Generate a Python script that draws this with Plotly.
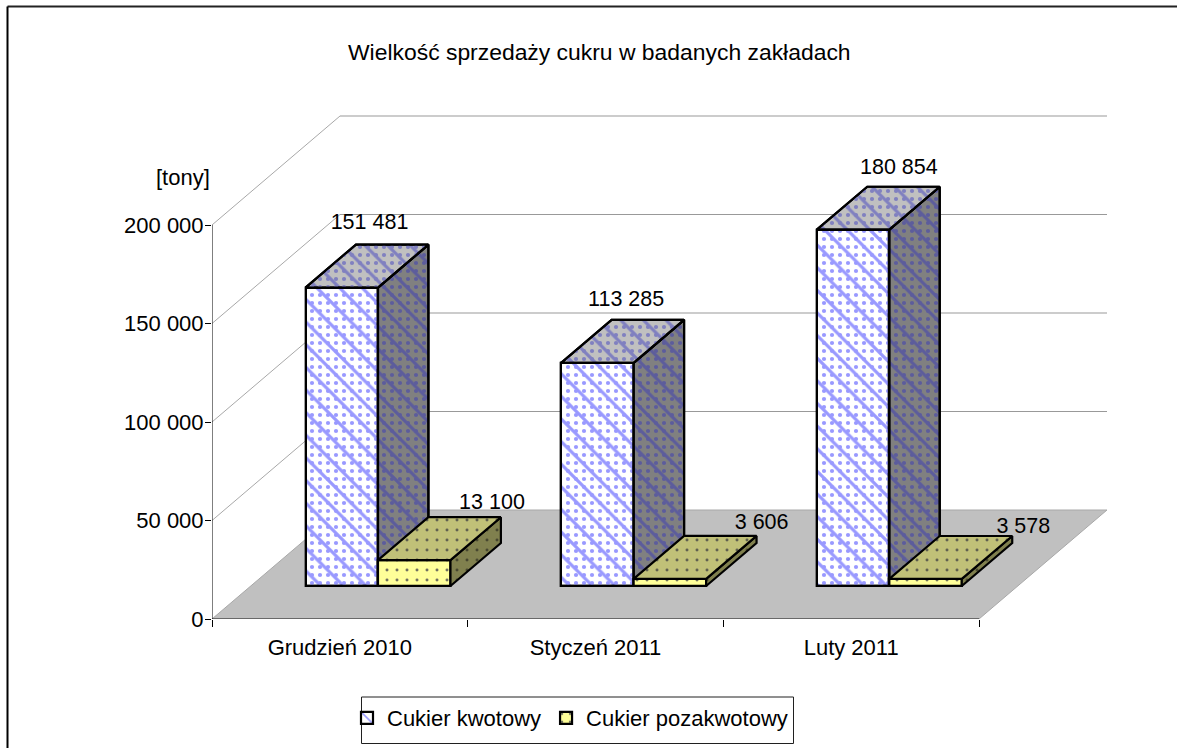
import plotly.graph_objects as go

# ---- data ----
categories = ["Grudzień 2010", "Styczeń 2011", "Luty 2011"]
kwotowy = [151481, 113285, 180854]
pozakwotowy = [13100, 3606, 3578]
series_names = ["Cukier kwotowy", "Cukier pozakwotowy"]
y_ticks = [0, 50000, 100000, 150000, 200000]
title_text = "Wielkość sprzedaży cukru w badanych zakładach"
unit_text = "[tony]"

# ---- canvas / projection ----
W, H = 1177, 748
PX_LEFT, PX_RIGHT, PX_BOTTOM, PX_TOP = 212, 1107, 619, 115
PX_PER_CAT = 767 / 3
PX_PER_UNIT = 394 / 200000
X_MAX = (PX_RIGHT - PX_LEFT) / PX_PER_CAT
Y_MAX = (PX_BOTTOM - PX_TOP) / PX_PER_UNIT
DEPTH_X = 128 / PX_PER_CAT     # oblique offset of the whole floor
DEPTH_Y = 109 / PX_PER_UNIT
D0, D1 = 0.303, 0.697          # bar depth span, fractions of floor depth
GAP, BAR_W = 0.214, 0.2835
FONT = "Liberation Sans"
FS = 22


def fx(px):
    return (px - PX_LEFT) / (PX_RIGHT - PX_LEFT)


def fy(py):
    return (PX_BOTTOM - py) / (PX_BOTTOM - PX_TOP)


def proj(x, v, d):
    return x + d * DEPTH_X, v + d * DEPTH_Y


def poly(points, bg, fg, shape, size, solidity):
    xs = [p[0] for p in points] + [points[0][0]]
    ys = [p[1] for p in points] + [points[0][1]]
    clear = "rgba(0,0,0,0)"
    return go.Scatter(
        x=xs, y=ys, mode="lines", fill="toself", showlegend=False, hoverinfo="skip",
        line=dict(color="black", width=2.2),
        fillcolor=bg or clear,
        fillpattern=dict(shape=shape, bgcolor=bg or clear, fgcolor=fg, size=size,
                         solidity=solidity, fillmode="overlay", fgopacity=1),
    )


def striped(points, bg, fg):
    """Stripes plus rows of dots lying midway between them."""
    return [poly(points, bg, fg, "\\", STRIPE[0], STRIPE[1]),
            poly(points, None, fg, ".", DOT[0], DOT[1])]


STRIPE = (16, 0.2)
DOT = (8, 0.22)
SPECK = (10, 0.07)

STYLES = [
    dict(front="#ffffff", top="#c0c0c0", side="#808080",
         fg_front="#9999ff", fg_top="#8080c0", fg_side="#5c5c9c"),
    dict(front="#ffff99", top="#c0c078", side="#80804e",
         fg_front="#707060", fg_top="#606050", fg_side="#484830"),
]

fig = go.Figure()

shapes = []
floor = [proj(0, 0, 0), proj(3, 0, 0), proj(3, 0, 1), proj(0, 0, 1)]
shapes.append(dict(
    type="path", layer="below", xref="x", yref="y",
    path="M" + " L".join(f"{a},{b}" for a, b in floor) + " Z",
    fillcolor="#c0c0c0", line=dict(color="#a8a8a8", width=1)))
for t in y_ticks[1:]:
    a, b = proj(0, t, 1)
    c, e = proj(3, t, 1)
    shapes.append(dict(type="line", layer="below", xref="x", yref="y", x0=0, y0=t, x1=a, y1=b,
                       line=dict(color="#a8a8a8", width=1)))
    shapes.append(dict(type="line", layer="below", xref="x", yref="y", x0=a, y0=b, x1=c, y1=e,
                       line=dict(color="#999999", width=1)))
shapes.append(dict(type="line", layer="above", xref="x", yref="y", x0=0, y0=0, x1=0, y1=y_ticks[-1],
                   line=dict(color="black", width=1)))
shapes.append(dict(type="line", layer="below", xref="x", yref="y", x0=0, y0=0, x1=3, y1=0,
                   line=dict(color="#505050", width=1.5)))
# chart frame: only its top and left edges fall inside the page
shapes.append(dict(type="line", xref="paper", yref="paper", layer="above",
                   x0=fx(7.5), x1=fx(W), y0=fy(6.5), y1=fy(6.5), line=dict(color="#222222", width=2)))
shapes.append(dict(type="line", xref="paper", yref="paper", layer="above",
                   x0=fx(7.5), x1=fx(7.5), y0=fy(6.5), y1=fy(H), line=dict(color="black", width=2)))
# legend box
shapes.append(dict(type="rect", xref="paper", yref="paper", layer="above",
                   x0=fx(361.5), x1=fx(793.5), y0=fy(697), y1=fy(743.5),
                   line=dict(color="#202020", width=1)))

cx = list(range(len(categories)))
base_val = D0 * DEPTH_Y
clear = "rgba(0,0,0,0)"
st0, st1 = STYLES
edge = dict(color="black", width=2.2)
centres0 = [i + GAP + D0 * DEPTH_X + BAR_W / 2 for i in cx]
centres1 = [i + GAP + BAR_W + D0 * DEPTH_X + BAR_W / 2 for i in cx]
fig.add_trace(go.Bar(
    x=centres0, y=kwotowy, base=base_val, width=BAR_W, name=series_names[0], hoverinfo="skip",
    marker=dict(color=st0["front"], line=edge,
                pattern=dict(shape="\\", fgcolor=st0["fg_front"], bgcolor=st0["front"],
                             size=STRIPE[0], solidity=STRIPE[1], fgopacity=1))))
fig.add_trace(go.Bar(
    x=centres0, y=kwotowy, base=base_val, width=BAR_W, showlegend=False, hoverinfo="skip",
    marker=dict(color=clear, line=edge,
                pattern=dict(shape=".", fgcolor=st0["fg_front"], bgcolor=clear,
                             size=DOT[0], solidity=DOT[1], fgopacity=1))))
fig.add_trace(go.Bar(
    x=centres1, y=pozakwotowy, base=base_val, width=BAR_W, name=series_names[1], hoverinfo="skip",
    marker=dict(color=st1["front"], line=edge,
                pattern=dict(shape=".", fgcolor=st1["fg_front"], bgcolor=st1["front"],
                             size=SPECK[0], solidity=SPECK[1], fgopacity=1))))

for i in cx:
    x0 = i + GAP
    x1 = x0 + BAR_W
    v = kwotowy[i]
    side = [proj(x1, 0, D0), proj(x1, 0, D1), proj(x1, v, D1), proj(x1, v, D0)]
    top = [proj(x0, v, D0), proj(x1, v, D0), proj(x1, v, D1), proj(x0, v, D1)]
    for tr in striped(side, st0["side"], st0["fg_side"]) + striped(top, st0["top"], st0["fg_top"]):
        fig.add_trace(tr)

    x0 = x1
    x1 = x0 + BAR_W
    v = pozakwotowy[i]
    front = [proj(x0, 0, D0), proj(x1, 0, D0), proj(x1, v, D0), proj(x0, v, D0)]
    side = [proj(x1, 0, D0), proj(x1, 0, D1), proj(x1, v, D1), proj(x1, v, D0)]
    top = [proj(x0, v, D0), proj(x1, v, D0), proj(x1, v, D1), proj(x0, v, D1)]
    fig.add_trace(poly(front, st1["front"], st1["fg_front"], ".", *SPECK))
    fig.add_trace(poly(side, st1["side"], st1["fg_side"], ".", *SPECK))
    fig.add_trace(poly(top, st1["top"], st1["fg_top"], ".", *SPECK))

# data labels: placed from the bar value, nudged in pixels per label
label_nudge = [
    [(64, 64), (65, 62), (82, 61)],
    [(114, 57), (128, 55), (134, 51)],
]
lx, ly, lt = [], [], []
for s, vals in enumerate([kwotowy, pozakwotowy]):
    for i, v in enumerate(vals):
        px, py = proj(i + GAP + s * BAR_W, v, D0)
        lx.append(px + label_nudge[s][i][0] / PX_PER_CAT)
        ly.append(py + label_nudge[s][i][1] / PX_PER_UNIT)
        lt.append(f"{v:,}".replace(",", " "))
fig.add_trace(go.Scatter(x=lx, y=ly, text=lt, mode="text", textposition="middle center",
                         showlegend=False, hoverinfo="skip", cliponaxis=False,
                         textfont=dict(family=FONT, size=21.5, color="black")))

fig.update_layout(
    width=W, height=H, autosize=False,
    margin=dict(l=PX_LEFT, r=W - PX_RIGHT, t=PX_TOP, b=H - PX_BOTTOM, pad=0, autoexpand=False),
    paper_bgcolor="white", plot_bgcolor="rgba(0,0,0,0)",
    barmode="overlay", bargap=0,
    separators=", ",
    font=dict(family=FONT, size=FS, color="black"),
    shapes=shapes,
    xaxis=dict(range=[0, X_MAX], showgrid=False, zeroline=False, showline=False,
               tickmode="array", tickvals=[i + 0.5 for i in cx], ticktext=categories,
               ticks="", ticklabelstandoff=13,
               minor=dict(tickmode="array", tickvals=[0, 1, 2, 3], ticks="outside", ticklen=7,
                          tickcolor="black", tickwidth=1, showgrid=False),
               tickfont=dict(family=FONT, size=FS)),
    yaxis=dict(range=[0, Y_MAX], showgrid=False, zeroline=False, showline=False,
               tickmode="array", tickvals=y_ticks, tickformat=",d", ticks="outside", ticklen=6,
               tickcolor="black", tickwidth=1, ticklabelstandoff=-3,
               tickfont=dict(family=FONT, size=FS)),
    annotations=[
        dict(text=title_text, xref="paper", yref="paper", x=fx(599.5), y=fy(52), showarrow=False,
             xanchor="center", yanchor="middle", font=dict(family=FONT, size=22.9)),
        dict(text=unit_text, xref="paper", yref="paper", x=fx(183), y=fy(177), showarrow=False,
             xanchor="center", yanchor="middle", font=dict(family=FONT, size=FS)),
    ],
    legend=dict(orientation="h", x=fx(347), y=fy(697), xanchor="left", yanchor="top",
                borderwidth=0, bgcolor="rgba(0,0,0,0)",
                font=dict(family=FONT, size=FS), traceorder="normal", itemclick=False,
                itemdoubleclick=False),
)

fig.write_html("out.html", config=dict(displayModeBar=False),
               post_script="document.body.style.margin='0';")
